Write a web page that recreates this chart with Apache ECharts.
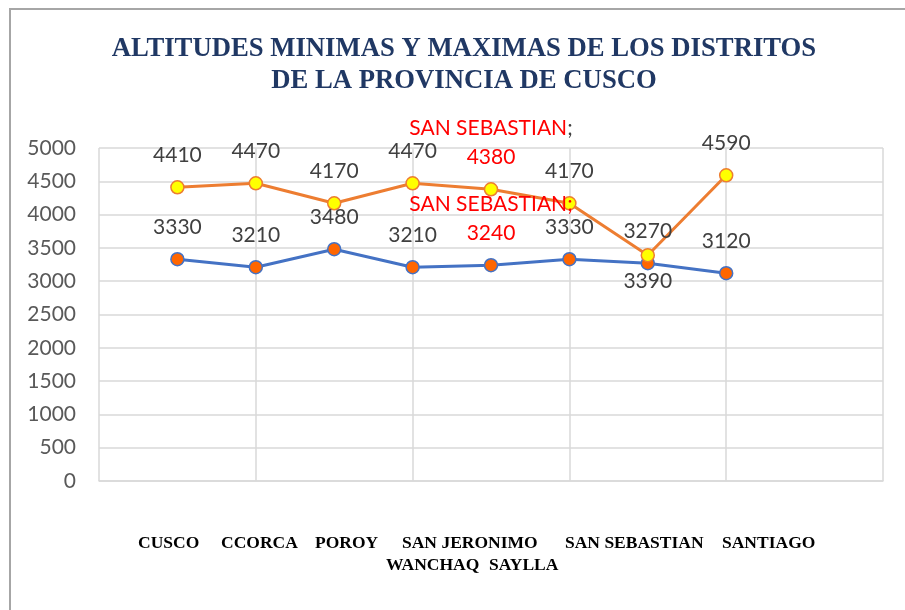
<!DOCTYPE html>
<html>
<head>
<meta charset="utf-8">
<script src="https://cdn.jsdelivr.net/npm/echarts@6/dist/echarts.min.js"></script>
<style>
  html, body { margin: 0; padding: 0; background: #fff; }
  #chart { width: 905px; height: 610px; }
</style>
</head>
<body>
<div id="chart"></div>
<script>
// distritos, en el orden de los puntos
const categories = ['CUSCO', 'CCORCA', 'POROY', 'SAN JERONIMO', 'SAN SEBASTIAN', 'SANTIAGO', 'WANCHAQ', 'SAYLLA'];
// altitud minima (azul) y maxima (naranja), m.s.n.m.
const minAlt = [3330, 3210, 3480, 3210, 3240, 3330, 3270, 3120];
const maxAlt = [4410, 4470, 4170, 4470, 4380, 4170, 3390, 4590];
const yTicks = [0, 500, 1000, 1500, 2000, 2500, 3000, 3500, 4000, 4500, 5000];

// punto con etiqueta en rojo (nombre + valor)
const redIdx = 4;
// punto de la serie maxima con etiqueta debajo
const belowIdx = 6;

// ubicacion de los nombres bajo el grafico (como en el original)
const nameSlots = [[138, 543], [221, 543], [315, 543], [402, 543], [565, 543], [722, 543], [386, 565], [489, 565]];

const chart = echarts.init(document.getElementById('chart'));

const labelBase = {
  show: true,
  position: 'top',
  distance: 10,
  fontFamily: 'Lato',
  fontSize: 21,
  lineHeight: 29,
  color: '#404040'
};

function buildData(values, isMax) {
  return values.map((v, i) => {
    const item = { value: [i + 1, v] };
    if (i === redIdx) {
      item.label = {
        formatter: isMax
          ? '{r|' + categories[i] + '}{k|;}\n{r|{@[1]}}'
          : '{r|' + categories[i] + ';}\n{r|{@[1]}}',
        rich: {
          r: { color: '#FF0000', fontFamily: 'Lato', fontSize: 21, lineHeight: 29 },
          k: { color: '#404040', fontFamily: 'Lato', fontSize: 21, lineHeight: 29 }
        }
      };
    }
    if (isMax && i === belowIdx) {
      item.label = { position: 'bottom', distance: 4 };
    }
    return item;
  });
}

const option = {
  animation: false,
  backgroundColor: '#fff',
  title: {
    text: 'ALTITUDES MINIMAS Y MAXIMAS DE LOS DISTRITOS\nDE LA PROVINCIA DE CUSCO',
    left: 459,
    top: 28,
    textAlign: 'center',
    textStyle: {
      fontFamily: 'Liberation Serif',
      fontWeight: 'bold',
      fontSize: 26.7,
      lineHeight: 32,
      color: '#203864'
    }
  },
  grid: { left: 99, right: 22, top: 148, bottom: 129 },
  xAxis: {
    type: 'value',
    min: 0,
    max: 10,
    interval: 2,
    axisLine: { show: true, lineStyle: { color: '#D9D9D9', width: 1.5 } },
    axisTick: { show: false },
    axisLabel: { show: false },
    splitLine: { show: true, lineStyle: { color: '#D9D9D9', width: 1.5 } }
  },
  yAxis: {
    type: 'value',
    min: yTicks[0],
    max: yTicks[yTicks.length - 1],
    interval: yTicks[1] - yTicks[0],
    axisLine: { show: false },
    axisTick: { show: false },
    axisLabel: {
      margin: 23,
      fontFamily: 'Lato',
      fontSize: 21,
      color: '#595959',
      formatter: (v) => String(v)
    },
    splitLine: { lineStyle: { color: '#D9D9D9', width: 1.5 } }
  },
  series: [
    {
      name: 'Minima',
      type: 'line',
      data: buildData(minAlt, false),
      symbol: 'circle',
      symbolSize: 13,
      lineStyle: { color: '#4472C4', width: 3 },
      itemStyle: { color: '#FF6600', borderColor: '#4472C4', borderWidth: 1.5 },
      label: Object.assign({}, labelBase, { formatter: (p) => String(p.value[1]) })
    },
    {
      name: 'Maxima',
      type: 'line',
      data: buildData(maxAlt, true),
      symbol: 'circle',
      symbolSize: 13,
      lineStyle: { color: '#ED7D31', width: 3 },
      itemStyle: { color: '#FFFF00', borderColor: '#ED7D31', borderWidth: 1.5 },
      label: Object.assign({}, labelBase, { formatter: (p) => String(p.value[1]) })
    }
  ],
  graphic: [
    {
      type: 'rect',
      shape: { x: 10, y: 9, width: 960, height: 660 },
      style: { fill: 'none', stroke: '#A6A6A6', lineWidth: 2 },
      silent: true
    }
  ].concat(categories.map((name, i) => ({
    type: 'text',
    x: nameSlots[i][0],
    y: nameSlots[i][1],
    style: {
      text: name,
      font: 'bold 17.5px "Liberation Serif"',
      fill: '#000',
      textAlign: 'left',
      textVerticalAlign: 'middle'
    }
  })))
};

chart.setOption(option);
</script>
</body>
</html>
